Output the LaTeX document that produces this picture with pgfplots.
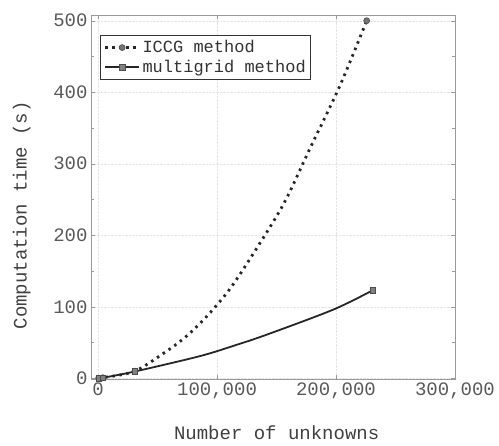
\documentclass[border=0pt]{standalone}
\usepackage{fontspec}
\setmainfont{Liberation Mono}
\usepackage{pgfplots}
\pgfplotsset{compat=1.18}

% ICCG: curve, marks only where the reference has them
\pgfplotstableread{
x y
500 0.2
4000 0.8
31000 10
57700 38
73000 57
90000 84
109500 122
127700 167
155700 243
178000 321
203000 408
225800 500
}\iccg

\pgfplotstableread{
x y
500 0.2
4000 0.7
31000 9.5
85700 31
115000 46
141800 61
197700 96
230800 123
}\multigrid

\begin{document}
\begin{tikzpicture}
\begin{axis}[
    at={(0,0)}, anchor=south west,
    scale only axis, width=364pt, height=364pt,
    xmin=-5900, xmax=300000, ymin=-1, ymax=508,
    xtick={0,100000,200000,300000},
    xticklabels={0,{100,000},{200,000},{300,000}},
    ytick={0,100,200,300,400,500},
    minor y tick num=1,
    scaled ticks=false,
    tick align=inside, tick style={black!40},
    axis line style={black!40},
    grid=major, grid style={black!10, densely dotted},
    /pgf/number format/assume math mode=true,
    ticklabel style={font=\fontsize{19}{21}\selectfont, text=black!65},
    label style={font=\fontsize{19}{21}\selectfont, text=black!75},
    xlabel={Number of unknowns},
    ylabel={Computation time (s)},
    xlabel style={at={(axis description cs:0.51,-0.148)}, anchor=center},
    ylabel style={at={(axis description cs:-0.19,0.45)}, anchor=center},
    legend style={at={(0.025,0.945)}, anchor=north west,
        draw=black!80, line width=1.3pt, inner sep=3pt,
        font=\fontsize{17}{20}\selectfont, text=black!80,
        row sep=2pt, cells={anchor=west}},
    legend image code/.code={\draw[#1, mark indices={2}]
        plot coordinates {(0pt,0pt) (17pt,0pt) (34pt,0pt)};},
]
\addplot[black!85, line width=2.8pt, dash pattern=on 2.5pt off 4.5pt, smooth,
    mark=*, mark size=3pt, mark indices={1,2,3,12},
    mark options={solid, line width=0.6pt, fill=black!55, draw=black!70}]
    table[x=x, y=y] {\iccg};
\addplot[black!85, line width=1.8pt, smooth,
    mark=square*, mark size=2.8pt, mark indices={1,2,3,8},
    mark options={line width=0.6pt, fill=black!50, draw=black!70}]
    table[x=x, y=y] {\multigrid};
\legend{ICCG method, multigrid method}
\end{axis}
\pgfresetboundingbox
\useasboundingbox (-91pt,-67pt) rectangle (408pt,379pt);
\end{tikzpicture}
\end{document}
